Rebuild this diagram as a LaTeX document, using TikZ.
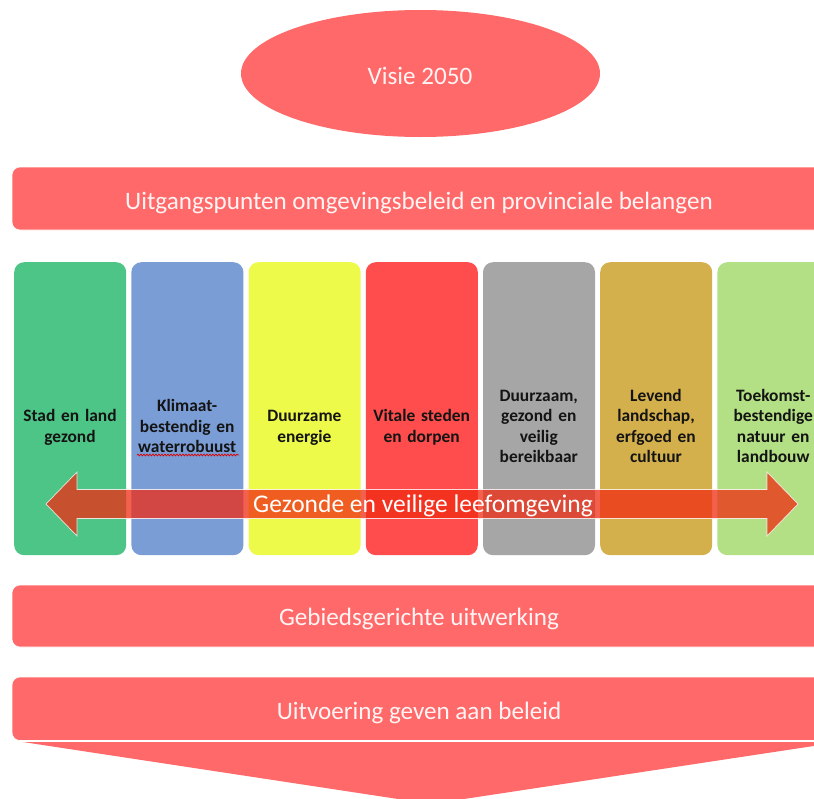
\documentclass[tikz,border=0pt]{standalone}
\usepackage{fontspec}
\setmainfont{Carlito}
\usetikzlibrary{shapes.geometric,decorations.pathmorphing}
\definecolor{barred}{HTML}{FF6969}
\definecolor{cA}{HTML}{4DC586}
\definecolor{cB}{HTML}{7B9DD6}
\definecolor{cC}{HTML}{EEFA4A}
\definecolor{cD}{HTML}{FF4C4C}
\definecolor{cE}{HTML}{A6A6A6}
\definecolor{cF}{HTML}{D4B04C}
\definecolor{cG}{HTML}{B3E085}
\definecolor{arrowcol}{HTML}{F02B12}
\definecolor{coltext}{HTML}{141414}
\definecolor{bartext}{HTML}{FFF4F4}
\begin{document}
\begin{tikzpicture}[x=1pt,y=-1pt,
  barbox/.style={fill=barred, draw=white, line width=0.6pt, rounded corners=8pt,
    minimum width=814pt, inner sep=0pt},
  bartxt/.style={anchor=base, text=bartext, inner sep=0pt,
    font=\fontsize{25.1}{30}\selectfont},
  colbox/.style={rounded corners=10pt, minimum width=112pt, minimum height=293pt,
    inner sep=0pt, anchor=north west},
  coltxt/.style={anchor=base, text=coltext, inner sep=0pt, text width=112pt,
    align=center, font=\fontsize{17.4}{20.5}\selectfont\bfseries}
]
\useasboundingbox (0,0) rectangle (814,798);
\clip (0,0) rectangle (814,798);
\fill[white] (0,0) rectangle (814,798);

% Vision ellipse
\node[ellipse, fill=barred, minimum width=359pt, minimum height=127pt, inner sep=0pt]
  (visie) at (420.5,73.5) {};
\node[bartxt] (visietxt) at (420,84) {Visie 2050};

% Top bar
\node[barbox, minimum height=63pt] (bar1) at (419,198.5) {};
\node[bartxt] (bar1txt) at (419,209) {Uitgangspunten omgevingsbeleid en provinciale belangen};

% Columns
\node[colbox, fill=cA] (col1) at (14,262) {};
\node[colbox, fill=cB] (col2) at (131.2,262) {};
\node[colbox, fill=cC] (col3) at (248.4,262) {};
\node[colbox, fill=cD] (col4) at (365.6,262) {};
\node[colbox, fill=cE] (col5) at (482.8,262) {};
\node[colbox, fill=cF] (col6) at (600,262) {};
\node[colbox, fill=cG] (col7) at (717.2,262) {};

\node[coltxt] (t1) at (70,421.75) {Stad en land\\gezond};
\node[coltxt] (t2) at (187.2,411.5) {Klimaat-\\bestendig en\\waterrobuust};
\node[coltxt] (t3) at (304.4,421.75) {Duurzame\\energie};
\node[coltxt] (t4) at (421.6,421.75) {Vitale steden\\en dorpen};
\node[coltxt] (t5) at (538.8,401.25) {Duurzaam,\\gezond en\\veilig\\bereikbaar};
\node[coltxt] (t6) at (656,401.25) {Levend\\landschap,\\erfgoed en\\cultuur};
\node[coltxt] (t7) at (773.2,401.25) {Toekomst-\\bestendige\\natuur en\\landbouw};

% spell-check squiggle under "waterrobuust"
\coordinate (sqA) at (137,455);
\coordinate (sqB) at (239,455);
\draw[red!85!black, line width=0.7pt,
  decorate, decoration={snake, amplitude=0.9pt, segment length=3pt}] (sqA) -- (sqB);

% Double arrow
\coordinate (aL) at (46,504);
\coordinate (aR) at (798,504);
\path[fill=arrowcol, fill opacity=0.75, draw=white, draw opacity=0.8, line width=0.7pt]
  (aL) -- (77,472) -- (77,489.5) -- (767,489.5) -- (767,472) -- (aR)
  -- (767,536) -- (767,518.5) -- (77,518.5) -- (77,536) -- cycle;
\node[anchor=base, text=white, inner sep=0pt, font=\fontsize{25.5}{30}\selectfont]
  (arrowtxt) at (423,512) {Gezonde en veilige leefomgeving};

% Lower bars
\node[barbox, minimum height=62pt] (bar2) at (419,616) {};
\node[bartxt] (bar2txt) at (419,625) {Gebiedsgerichte uitwerking};
\node[barbox, minimum height=63.5pt] (bar3) at (419,708.75) {};
\node[bartxt] (bar3txt) at (419,719) {Uitvoering geven aan beleid};

% Bottom chevron
\fill[barred] (23,742) -- (840,742) -- (431,804) -- cycle;
\end{tikzpicture}
\end{document}
